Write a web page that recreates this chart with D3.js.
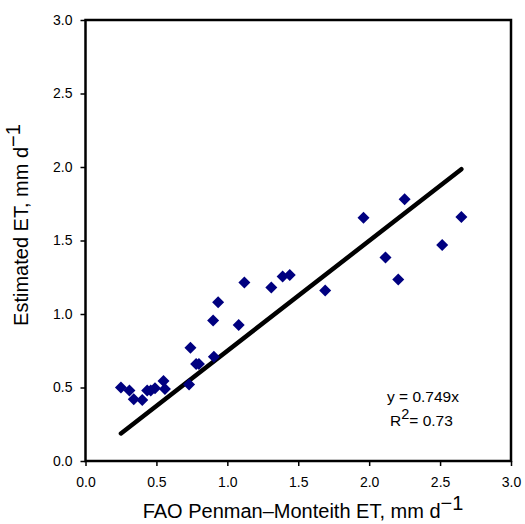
<!DOCTYPE html>
<html>
<head>
<meta charset="utf-8">
<script src="https://cdn.jsdelivr.net/npm/d3@7"></script>
<style>
  body { margin: 0; background: #fff; }
  svg { font-family: "Liberation Sans", Arial, sans-serif; }
</style>
</head>
<body>
<svg width="525" height="524"></svg>
<script>
// FAO Penman-Monteith ET (x) vs estimated ET (y), mm/day
var etFao = [0.25, 0.31, 0.34, 0.40, 0.435, 0.46, 0.49, 0.55, 0.56, 0.73,
             0.74, 0.78, 0.80, 0.90, 0.905, 0.935, 1.08, 1.12, 1.31, 1.39,
             1.44, 1.69, 1.96, 2.115, 2.205, 2.25, 2.515, 2.65];
var etEst = [0.50, 0.48, 0.42, 0.415, 0.48, 0.48, 0.495, 0.545, 0.49, 0.52,
             0.77, 0.66, 0.66, 0.955, 0.71, 1.08, 0.925, 1.215, 1.18, 1.255,
             1.265, 1.16, 1.655, 1.385, 1.235, 1.78, 1.47, 1.66];
var slope = 0.749;
var r2 = 0.73;
var xTicks = [0, 0.5, 1, 1.5, 2, 2.5, 3];
var yTicks = [0, 0.5, 1, 1.5, 2, 2.5, 3];

var svg = d3.select("svg");
var plotLeft = 85.5, plotRight = 511, plotTop = 20, plotBottom = 461;

var x = d3.scaleLinear().domain([0, 3]).range([plotLeft, plotRight]);
var y = d3.scaleLinear().domain([0, 3]).range([plotBottom, plotTop]);

// 坐标轴
var xAxis = svg.append("g")
    .attr("transform", "translate(0," + plotBottom + ")")
    .call(d3.axisBottom(x).tickValues(xTicks).tickFormat(d3.format(".1f")).tickSizeInner(5).tickSizeOuter(0));
var yAxis = svg.append("g")
    .attr("transform", "translate(" + plotLeft + ",0)")
    .call(d3.axisLeft(y).tickValues(yTicks).tickFormat(d3.format(".1f")).tickSizeInner(5).tickSizeOuter(0));

[xAxis, yAxis].forEach(function (g) {
    g.attr("font-size", null).attr("font-family", null);
    g.select(".domain").remove();
    g.selectAll(".tick line").attr("stroke", "#000").attr("stroke-width", 1.5);
    g.selectAll(".tick text")
        .attr("fill", "#000")
        .style("font-size", "14px");
});
xAxis.selectAll(".tick text").attr("y", 16);
yAxis.selectAll(".tick text").attr("x", -13);

// 边框
svg.append("rect")
    .attr("x", plotLeft).attr("y", plotTop)
    .attr("width", plotRight - plotLeft).attr("height", plotBottom - plotTop)
    .attr("fill", "none").attr("stroke", "#000").attr("stroke-width", 2.5);

// 回归线 y = 0.749x
var xmin = d3.min(etFao), xmax = d3.max(etFao);
svg.append("line")
    .attr("x1", x(xmin)).attr("y1", y(slope * xmin))
    .attr("x2", x(xmax)).attr("y2", y(slope * xmax))
    .attr("stroke", "#000").attr("stroke-width", 4.5).attr("stroke-linecap", "round");

// 散点（菱形）
var diamond = d3.symbol().type(d3.symbolSquare).size(72);
svg.selectAll("path.pt")
    .data(etFao)
    .enter()
    .append("path")
    .attr("class", "pt")
    .attr("d", diamond)
    .attr("fill", "#000080")
    .attr("transform", function (d, i) {
        return "translate(" + x(d) + "," + y(etEst[i]) + ") rotate(45)";
    });

// 方程注释
svg.append("text")
    .attr("x", 387).attr("y", 402)
    .style("font-size", "15.5px")
    .text("y = " + slope + "x");
var rt = svg.append("text")
    .attr("x", 390).attr("y", 426)
    .style("font-size", "15.5px");
rt.append("tspan").text("R");
rt.append("tspan").attr("dy", -7).style("font-size", "14.5px").text("2");
rt.append("tspan").attr("dy", 7).text("= " + r2);

// 轴标题
var xt = svg.append("text")
    .attr("x", 303).attr("y", 518)
    .attr("text-anchor", "middle")
    .style("font-size", "20px");
xt.append("tspan").text("FAO Penman\u2013Monteith ET, mm d");
xt.append("tspan").attr("dy", -8).text("\u22121");

var yt = svg.append("text")
    .attr("transform", "translate(28,225) rotate(-90)")
    .attr("text-anchor", "middle")
    .style("font-size", "20px");
yt.append("tspan").text("Estimated ET, mm d");
yt.append("tspan").attr("dy", -8).text("\u22121");
</script>
</body>
</html>
